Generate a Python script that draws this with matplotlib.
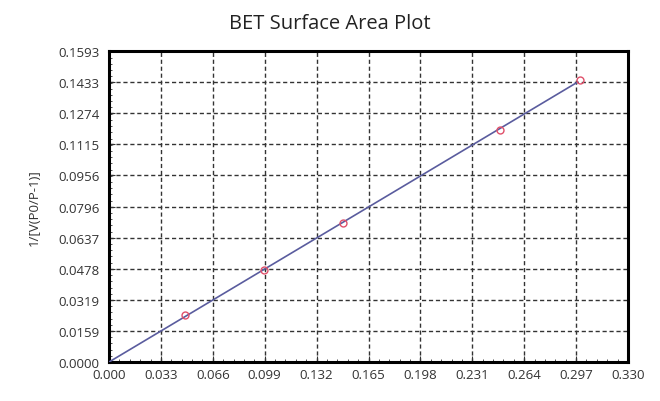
import matplotlib
matplotlib.use('Agg')
import matplotlib.pyplot as plt
from matplotlib.ticker import FixedLocator, AutoMinorLocator

# measured points (P/P0 vs 1/[V(P0/P-1)])
rel_pressure = [0.0484, 0.0987, 0.149, 0.2485, 0.2994]
bet_value = [0.0241, 0.0473, 0.0714, 0.1190, 0.1444]

# fitted line endpoints
fit_x = [0.0, 0.298]
fit_y = [0.0, 0.1434]

x_ticks = [0.000, 0.033, 0.066, 0.099, 0.132, 0.165, 0.198, 0.231, 0.264, 0.297, 0.330]
y_ticks = [0.0000, 0.0159, 0.0319, 0.0478, 0.0637, 0.0796, 0.0956, 0.1115, 0.1274, 0.1433, 0.1593]

plt.rcParams['font.family'] = ['Open Sans', 'DejaVu Sans']

fig = plt.figure(figsize=(6.6, 4.02), dpi=100)
ax = fig.add_axes([0.1652, 0.0970, 0.7863, 0.7736])

ax.plot(fit_x, fit_y, color='#5a5c9e', linewidth=1.2, zorder=3)
ax.plot(rel_pressure, bet_value, linestyle='none', marker='o', markersize=5,
        markerfacecolor='none', markeredgecolor='#e0506a', markeredgewidth=1.0, zorder=4)

ax.set_xlim(0, 0.330)
ax.set_ylim(0, 0.1593)
ax.xaxis.set_major_locator(FixedLocator(x_ticks))
ax.yaxis.set_major_locator(FixedLocator(y_ticks))
ax.set_xticklabels([f'{v:.3f}' for v in x_ticks])
ax.set_yticklabels([f'{v:.4f}' for v in y_ticks])
ax.xaxis.set_minor_locator(AutoMinorLocator(5))
ax.yaxis.set_minor_locator(AutoMinorLocator(5))
ax.tick_params(which='both', direction='in', labelsize=9.5, color='#333333', labelcolor='#333333')
ax.tick_params(axis='y', which='major', length=4, pad=7)
ax.tick_params(axis='x', which='major', length=4, pad=4)
ax.tick_params(which='minor', length=2)

ax.grid(True, which='major', linestyle=(0, (3, 2)), color='#333333', linewidth=1.0)
for s in ax.spines.values():
    s.set_linewidth(2.2)
    s.set_color('black')

ax.set_ylabel('1/[V(P0/P-1)]', fontsize=9.5, labelpad=12, color='#333333')
fig.text(0.5, 1 - 29 / 402, 'BET Surface Area Plot', fontsize=14.5, ha='center',
         va='baseline', color='#222222')

plt.savefig('out.png', dpi=100)
